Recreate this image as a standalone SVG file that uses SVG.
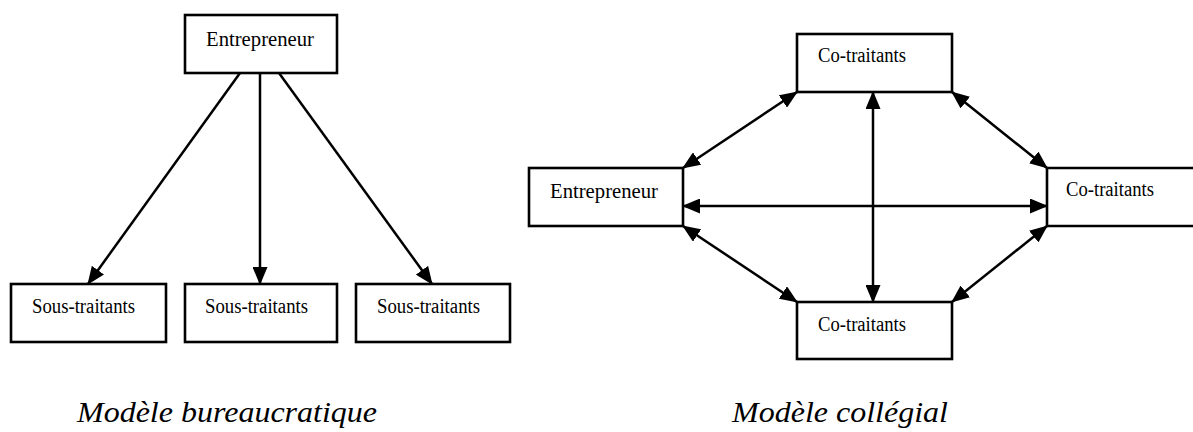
<svg xmlns="http://www.w3.org/2000/svg" width="1193" height="432" viewBox="0 0 1193 432">
  <style>
    .box { fill: #fff; stroke: #000; stroke-width: 2.6; }
    .edge { fill: none; stroke: #000; stroke-width: 2.6; }
    .lbl { font-family: "Liberation Serif", "Times New Roman", serif; font-size: 20px; fill: #000; }
    .cap { font-family: "Liberation Serif", "Times New Roman", serif; font-style: italic; font-size: 29px; fill: #000; }
    .conn line { stroke: #000; stroke-width: 2.5; fill: none; }
  </style>
  <defs>
    <marker id="arrow" viewBox="0 0 18 15" refX="17" refY="7.5" markerWidth="18" markerHeight="15" markerUnits="userSpaceOnUse" orient="auto-start-reverse">
      <path d="M0,0 L18,7.5 L0,15 Z" fill="#000"/>
    </marker>
  </defs>
  <rect width="1193" height="432" fill="#fff"/>

  <!-- Bureaucratic model -->
  <g id="b-entrepreneur">
    <rect class="box" x="185" y="15" width="152" height="58"/>
    <text class="lbl" x="206" y="46" textLength="108" lengthAdjust="spacingAndGlyphs">Entrepreneur</text>
  </g>
  <g id="b-sous-1">
    <rect class="box" x="11" y="284" width="155" height="58"/>
    <text class="lbl" x="32" y="313" textLength="103" lengthAdjust="spacingAndGlyphs">Sous-traitants</text>
  </g>
  <g id="b-sous-2">
    <rect class="box" x="185" y="284" width="152" height="58"/>
    <text class="lbl" x="205" y="313" textLength="103" lengthAdjust="spacingAndGlyphs">Sous-traitants</text>
  </g>
  <g id="b-sous-3">
    <rect class="box" x="356" y="284" width="154" height="58"/>
    <text class="lbl" x="377" y="313" textLength="103" lengthAdjust="spacingAndGlyphs">Sous-traitants</text>
  </g>

  <!-- Collegial model -->
  <g id="c-co-top">
    <rect class="box" x="797" y="34" width="155" height="58"/>
    <text class="lbl" x="818" y="62" textLength="88" lengthAdjust="spacingAndGlyphs">Co-traitants</text>
  </g>
  <g id="c-entrepreneur">
    <rect class="box" x="529" y="168" width="154" height="58"/>
    <text class="lbl" x="550" y="198" textLength="108" lengthAdjust="spacingAndGlyphs">Entrepreneur</text>
  </g>
  <g id="c-co-right">
    <rect x="1047" y="168" width="150" height="58" fill="#fff"/>
    <path class="edge" d="M1196,168 H1047 V226 H1196"/>
    <text class="lbl" x="1066" y="196" textLength="88" lengthAdjust="spacingAndGlyphs">Co-traitants</text>
  </g>
  <g id="c-co-bottom">
    <rect class="box" x="797" y="302" width="155" height="57"/>
    <text class="lbl" x="818" y="331" textLength="88" lengthAdjust="spacingAndGlyphs">Co-traitants</text>
  </g>

  <g id="connectors" class="conn">
    <!-- bureaucratic: one-way -->
    <line x1="240" y1="73" x2="88" y2="284" marker-end="url(#arrow)"/>
    <line x1="260" y1="73" x2="260" y2="284" marker-end="url(#arrow)"/>
    <line x1="279" y1="73" x2="432" y2="284" marker-end="url(#arrow)"/>
    <!-- collegial: two-way -->
    <line x1="683" y1="168" x2="797" y2="92" marker-start="url(#arrow)" marker-end="url(#arrow)"/>
    <line x1="952" y1="92" x2="1047" y2="168" marker-start="url(#arrow)" marker-end="url(#arrow)"/>
    <line x1="873" y1="92" x2="873" y2="302" marker-start="url(#arrow)" marker-end="url(#arrow)"/>
    <line x1="683" y1="206" x2="1047" y2="206" marker-start="url(#arrow)" marker-end="url(#arrow)"/>
    <line x1="683" y1="226" x2="797" y2="302" marker-start="url(#arrow)" marker-end="url(#arrow)"/>
    <line x1="952" y1="302" x2="1047" y2="226" marker-start="url(#arrow)" marker-end="url(#arrow)"/>
  </g>

  <g id="captions">
    <text class="cap" x="77" y="422" textLength="300" lengthAdjust="spacingAndGlyphs">Modèle bureaucratique</text>
    <text class="cap" x="732" y="422" textLength="216" lengthAdjust="spacingAndGlyphs">Modèle collégial</text>
  </g>
</svg>
